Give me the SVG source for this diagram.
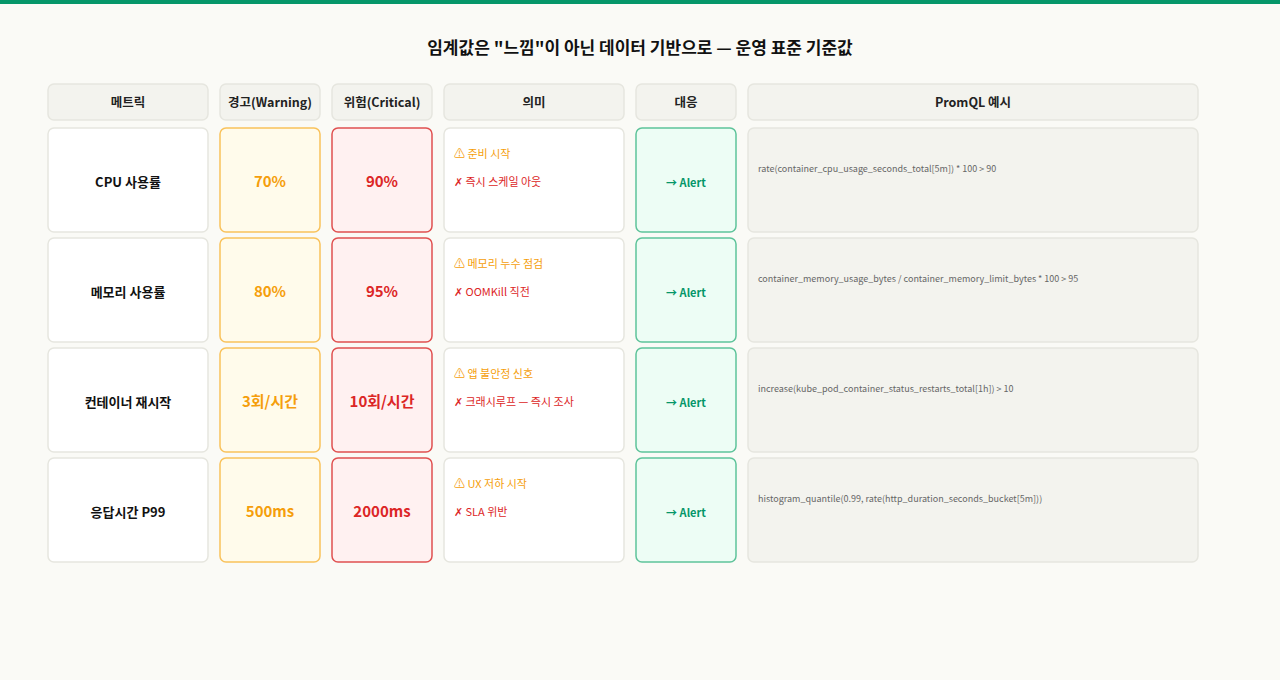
<svg xmlns="http://www.w3.org/2000/svg" width="1280" height="680" viewBox="0 0 1280 680">
<style>
text{font-family:"Noto Sans CJK KR","Noto Sans",sans-serif}
.h rect{fill:#f3f3ee;stroke:#e6e6df;stroke-width:1.5}
.h text{font-size:12.5px;font-weight:700;fill:#222;text-anchor:middle}
.m{fill:#fff;stroke:#e6e6df;stroke-width:1.5}
.w{fill:#fffbeb;stroke:#f9c25b;stroke-width:1.5}
.c{fill:#fff1f1;stroke:#e05050;stroke-width:1.5}
.a{fill:#edfdf5;stroke:#5ec39a;stroke-width:1.5}
.q{fill:#f3f3ee;stroke:#e6e6df;stroke-width:1.5}
.mt{font-size:13px;font-weight:700;fill:#111;text-anchor:middle}
.wt{font-size:15px;font-weight:700;fill:#f59e0b;text-anchor:middle}
.ct{font-size:15px;font-weight:700;fill:#dc2626;text-anchor:middle}
.s1{font-size:11px;fill:#f59e0b}
.s2{font-size:11px;fill:#dc2626}
.at{font-size:11px;font-weight:700;fill:#059669;text-anchor:middle}
.qt{font-size:9px;fill:#666}
</style>
<rect width="1280" height="680" fill="#fafaf6"/>
<rect width="1280" height="4" fill="#059669"/>
<text x="640" y="54" text-anchor="middle" font-size="17" font-weight="700" fill="#111">임계값은 "느낌"이 아닌 데이터 기반으로 — 운영 표준 기준값</text>
<g id="header" class="h">
<rect x="48" y="84" width="160" height="36" rx="6"/><text x="128" y="107">메트릭</text>
<rect x="220" y="84" width="100" height="36" rx="6"/><text x="270" y="107">경고(Warning)</text>
<rect x="332" y="84" width="100" height="36" rx="6"/><text x="382" y="107">위험(Critical)</text>
<rect x="444" y="84" width="180" height="36" rx="6"/><text x="534" y="107">의미</text>
<rect x="636" y="84" width="100" height="36" rx="6"/><text x="686" y="107">대응</text>
<rect x="748" y="84" width="450" height="36" rx="6"/><text x="973" y="107">PromQL 예시</text>
</g>
<g id="row-cpu" transform="translate(0,128)">
<rect class="m" x="48" y="0" width="160" height="104" rx="6"/><text class="mt" x="128" y="59">CPU 사용률</text>
<rect class="w" x="220" y="0" width="100" height="104" rx="6"/><text class="wt" x="270" y="59">70%</text>
<rect class="c" x="332" y="0" width="100" height="104" rx="6"/><text class="ct" x="382" y="59">90%</text>
<rect class="m" x="444" y="0" width="180" height="104" rx="6"/><text class="s1" x="454" y="30">⚠ 준비 시작</text><text class="s2" x="454" y="58">✗ 즉시 스케일 아웃</text>
<rect class="a" x="636" y="0" width="100" height="104" rx="6"/><text class="at" x="686" y="59">→ Alert</text>
<rect class="q" x="748" y="0" width="450" height="104" rx="6"/><text class="qt" x="758" y="44">rate(container_cpu_usage_seconds_total[5m]) * 100 &gt; 90</text>
</g>
<g id="row-mem" transform="translate(0,238)">
<rect class="m" x="48" y="0" width="160" height="104" rx="6"/><text class="mt" x="128" y="59">메모리 사용률</text>
<rect class="w" x="220" y="0" width="100" height="104" rx="6"/><text class="wt" x="270" y="59">80%</text>
<rect class="c" x="332" y="0" width="100" height="104" rx="6"/><text class="ct" x="382" y="59">95%</text>
<rect class="m" x="444" y="0" width="180" height="104" rx="6"/><text class="s1" x="454" y="30">⚠ 메모리 누수 점검</text><text class="s2" x="454" y="58">✗ OOMKill 직전</text>
<rect class="a" x="636" y="0" width="100" height="104" rx="6"/><text class="at" x="686" y="59">→ Alert</text>
<rect class="q" x="748" y="0" width="450" height="104" rx="6"/><text class="qt" x="758" y="44">container_memory_usage_bytes / container_memory_limit_bytes * 100 &gt; 95</text>
</g>
<g id="row-restart" transform="translate(0,348)">
<rect class="m" x="48" y="0" width="160" height="104" rx="6"/><text class="mt" x="128" y="59">컨테이너 재시작</text>
<rect class="w" x="220" y="0" width="100" height="104" rx="6"/><text class="wt" x="270" y="59">3회/시간</text>
<rect class="c" x="332" y="0" width="100" height="104" rx="6"/><text class="ct" x="382" y="59">10회/시간</text>
<rect class="m" x="444" y="0" width="180" height="104" rx="6"/><text class="s1" x="454" y="30">⚠ 앱 불안정 신호</text><text class="s2" x="454" y="58">✗ 크래시루프 — 즉시 조사</text>
<rect class="a" x="636" y="0" width="100" height="104" rx="6"/><text class="at" x="686" y="59">→ Alert</text>
<rect class="q" x="748" y="0" width="450" height="104" rx="6"/><text class="qt" x="758" y="44">increase(kube_pod_container_status_restarts_total[1h]) &gt; 10</text>
</g>
<g id="row-latency" transform="translate(0,458)">
<rect class="m" x="48" y="0" width="160" height="104" rx="6"/><text class="mt" x="128" y="59">응답시간 P99</text>
<rect class="w" x="220" y="0" width="100" height="104" rx="6"/><text class="wt" x="270" y="59">500ms</text>
<rect class="c" x="332" y="0" width="100" height="104" rx="6"/><text class="ct" x="382" y="59">2000ms</text>
<rect class="m" x="444" y="0" width="180" height="104" rx="6"/><text class="s1" x="454" y="30">⚠ UX 저하 시작</text><text class="s2" x="454" y="58">✗ SLA 위반</text>
<rect class="a" x="636" y="0" width="100" height="104" rx="6"/><text class="at" x="686" y="59">→ Alert</text>
<rect class="q" x="748" y="0" width="450" height="104" rx="6"/><text class="qt" x="758" y="44">histogram_quantile(0.99, rate(http_duration_seconds_bucket[5m]))</text>
</g>
<g id="connectors"/>
</svg>
